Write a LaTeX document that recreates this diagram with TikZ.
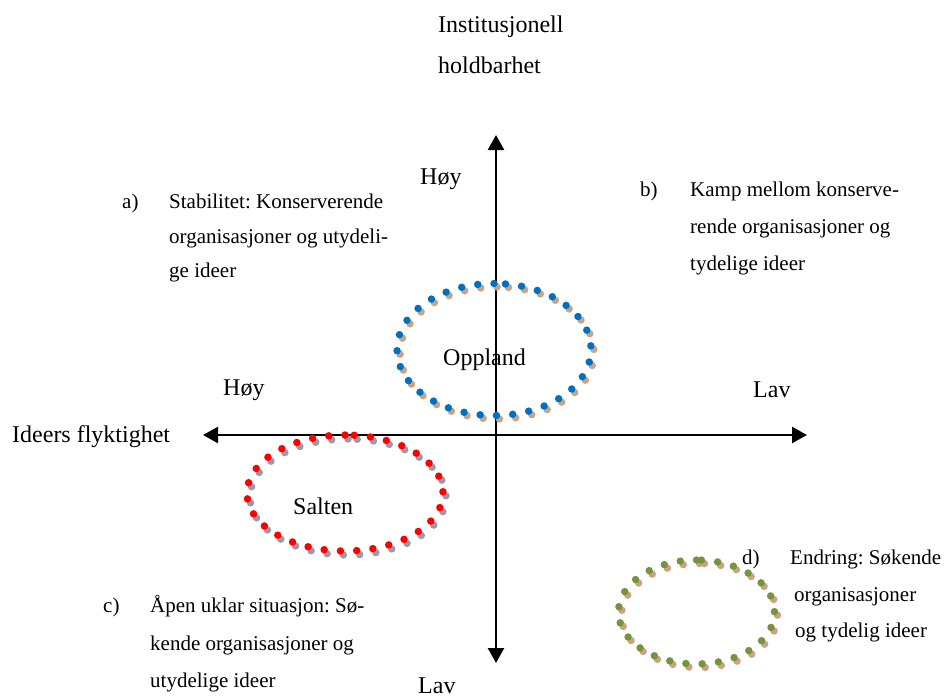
\documentclass[tikz,border=0pt]{standalone}
\usepackage{fontspec}
\setmainfont{Liberation Serif}
\usetikzlibrary{arrows.meta}
\definecolor{dblue}{HTML}{0070C0}
\definecolor{dred}{HTML}{FF0000}
\definecolor{dgreen}{HTML}{77933C}
\definecolor{shtan}{HTML}{C9A384}
\definecolor{shgray}{HTML}{9C97AA}
\begin{document}
\frenchspacing
\begin{tikzpicture}[x=1pt,y=-1pt,
  lbl/.style={font=\fontsize{24}{28}\selectfont, inner sep=0pt, anchor=base west},
  txt/.style={font=\fontsize{21}{25}\selectfont, inner sep=0pt, anchor=base west},
  axis/.style={line width=2.5pt, -{Triangle[width=16pt,length=15pt]}},
  dots/.style={line width=7.5pt, line cap=round, dash pattern=on 0pt off 16.3pt}]
\useasboundingbox (0,0) rectangle (945,697);
% axes
\coordinate (O) at (496,435);
\coordinate (L) at (203,435);
\coordinate (R) at (807,435);
\coordinate (T) at (496,135);
\coordinate (B) at (496,663);
\draw[axis] (O) -- (T);
\draw[axis] (O) -- (B);
\draw[axis] (O) -- (L);
\draw[axis] (O) -- (R);
% ellipses (start at top, as the reference's seam)
\draw[dots, shtan] (497,287) arc[start angle=90, end angle=450, x radius=97pt, y radius=66pt];
\draw[dots, dblue] (494,283.5) arc[start angle=90, end angle=450, x radius=97pt, y radius=66pt];
\draw[dots, shgray] (348,439) arc[start angle=90, end angle=450, x radius=98pt, y radius=58pt];
\draw[dots, dred] (345,435) arc[start angle=90, end angle=450, x radius=98pt, y radius=58pt];
\draw[dots, shtan] (699.5,563.5) arc[start angle=90, end angle=450, x radius=78pt, y radius=52pt];
\draw[dots, dgreen] (696.5,560) arc[start angle=90, end angle=450, x radius=78pt, y radius=52pt];
% labels
\node[lbl] (inst) at (438,32) {Institusjonell};
\node[lbl] (hold) at (438,73) {holdbarhet};
\node[lbl] (hoyT) at (420,184) {Høy};
\node[lbl] (hoyL) at (223,395) {Høy};
\node[lbl] (lavR) at (753,397) {Lav};
\node[lbl] (lavB) at (418,693) {Lav};
\node[lbl] (idf) at (12,442) {Ideers flyktighet};
\node[lbl] (opp) at (443,365) {Oppland};
\node[lbl] (sal) at (293,514) {Salten};
% a)
\node[txt] (a0) at (122,208) {a)};
\node[txt] (a1) at (169,208) {Stabilitet: Konserverende};
\node[txt] (a2) at (169,243) {organisasjoner og utydeli-};
\node[txt] (a3) at (169,277) {ge ideer};
% b)
\node[txt] (b0) at (640,196) {b)};
\node[txt] (b1) at (690,196) {Kamp mellom konserve-};
\node[txt] (b2) at (690,233) {rende organisasjoner og};
\node[txt] (b3) at (690,270) {tydelige ideer};
% c)
\node[txt] (c0) at (103,612) {c)};
\node[txt] (c1) at (150,612) {Åpen uklar situasjon: Sø-};
\node[txt] (c2) at (150,650) {kende organisasjoner og};
\node[txt] (c3) at (150,687) {utydelige ideer};
% d)
\node[txt] (d0) at (742,564) {d)};
\node[txt] (d1) at (790,564) {Endring: Søkende};
\node[txt] (d2) at (794,601) {organisasjoner};
\node[txt] (d3) at (795,637) {og tydelig ideer};
\end{tikzpicture}
\end{document}
